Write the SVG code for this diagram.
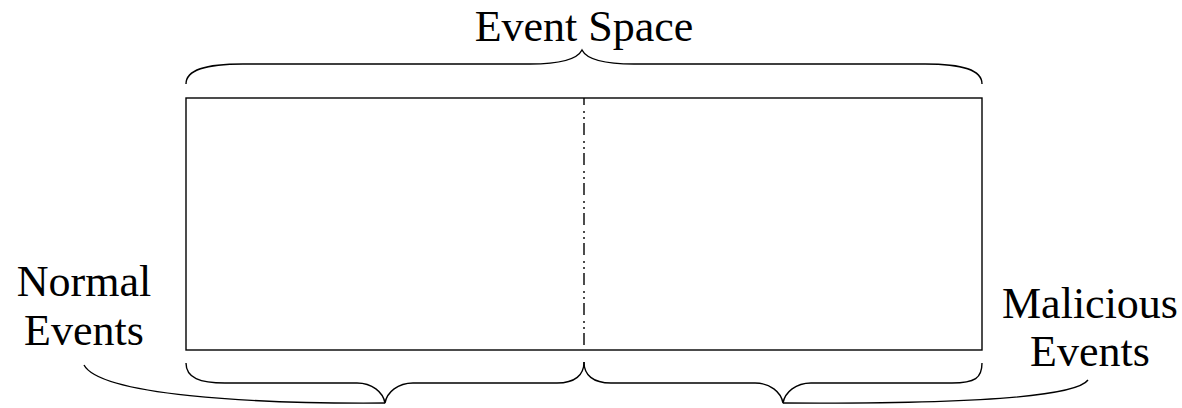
<svg xmlns="http://www.w3.org/2000/svg" width="1182" height="408" viewBox="0 0 1182 408">
<style>
.ln{fill:none;stroke:#000;stroke-width:1.4}
.t{font-family:"Liberation Serif","Times New Roman",serif;font-size:44px;fill:#000;text-anchor:middle}
</style>
<rect width="1182" height="408" fill="#fff"/>
<g id="event-space">
<rect class="ln" x="186" y="98" width="796" height="252"/>
<text class="t" x="584" y="41">Event Space</text>
</g>
<g id="normal-events">
<text class="t" x="84" y="296">Normal</text>
<text class="t" x="84" y="345">Events</text>
</g>
<g id="malicious-events">
<text class="t" x="1090" y="318">Malicious</text>
<text class="t" x="1090" y="366">Events</text>
</g>
<g id="connectors">
<line class="ln" x1="584" y1="98" x2="584" y2="350" stroke-dasharray="12 6 2 4 2 4" stroke-dashoffset="5"/>
<path class="ln" d="M186,84 C186,70 205,64 243,64 L530,64 C560,64 577,60 582,50 C587,60 604,64 634,64 L925,64 C963,64 982,70 982,84"/>
<path class="ln" d="M186,363 C186,378 200,383 225,383 L357,383 C372,383 383,392 385,403 C387,392 398,383 413,383 L557,383 C575,383 584,375 584,362"/>
<path class="ln" d="M584,362 C584,375 593,383 611,383 L755,383 C770,383 781,392 783,403 C785,392 796,383 811,383 L952,383 C975,383 982,378 982,363"/>
<path class="ln" d="M84,365 C100,395 250,404 385,403"/>
<path class="ln" d="M783,403 C950,404 1075,398 1088,380"/>
</g>
</svg>
